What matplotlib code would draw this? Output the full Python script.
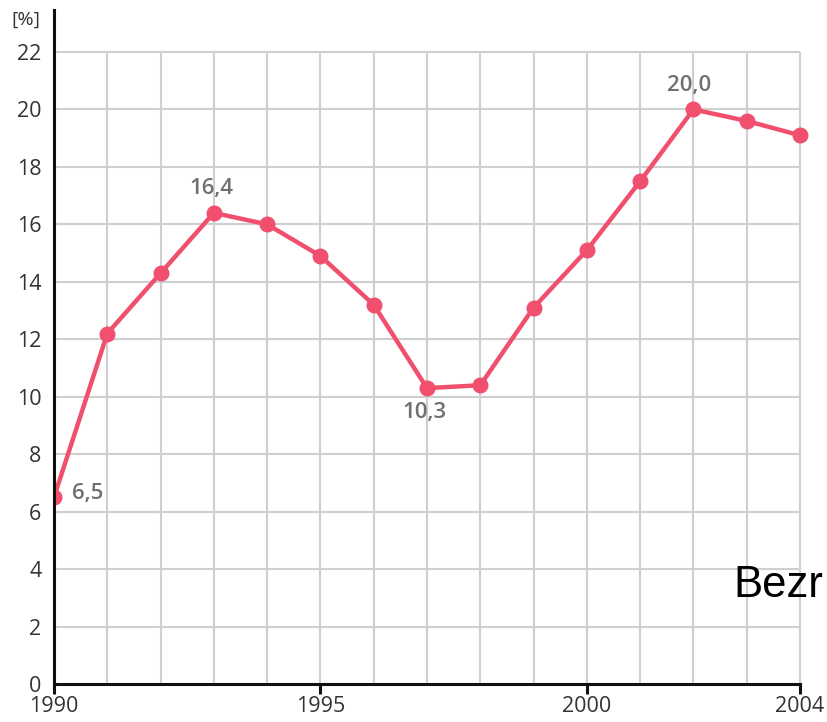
import matplotlib
matplotlib.use("Agg")
import matplotlib.pyplot as plt

years = list(range(1990, 2005))
values = [6.5, 12.2, 14.3, 16.4, 16.0, 14.9, 13.2, 10.3, 10.4, 13.1, 15.1, 17.5, 20.0, 19.6, 19.1]
yticks = list(range(0, 23, 2))
xticks = [1990, 1995, 2000, 2004]
annotations = {1990: "6,5", 1993: "16,4", 1997: "10,3", 2002: "20,0"}

plt.rcParams['font.family'] = ['Open Sans', 'DejaVu Sans']

W, H = 828, 722
fig = plt.figure(figsize=(W / 100, H / 100), dpi=100)
x0, x1 = 54, 828
y_bot, y_top = 684, 10
ax = fig.add_axes([x0 / W, (H - y_bot) / H, (x1 - x0) / W, (y_bot - y_top) / H])

px_per_year = (800 - 54) / 14
px_per_unit = (684 - 52) / 22
ax.set_xlim(1990, 1990 + (x1 - x0) / px_per_year)
ax.set_ylim(0, (y_bot - y_top) / px_per_unit)

grid_c = '#cfcfcf'
ax.hlines(yticks[1:], 1990, 2004, color=grid_c, lw=1.5, zorder=1)
ax.vlines(years[1:], 0, 22, color=grid_c, lw=1.5, zorder=1)

ax.plot(years, values, color='#f0506e', lw=3.2, marker='o', ms=10.5, zorder=3, clip_on=True)

for sp in ['top', 'right']:
    ax.spines[sp].set_visible(False)
ax.spines['left'].set_linewidth(2.2)
ax.spines['bottom'].set_linewidth(2.2)
ax.spines['left'].set_color('#111111')
ax.spines['bottom'].set_color('#111111')
ax.spines['bottom'].set_bounds(1990, 2004)
ax.spines['left'].set_zorder(4)

ax.set_xticks(xticks)
ax.set_xticklabels([str(t) for t in xticks])
ax.set_yticks(yticks)
ax.set_yticklabels([str(t) for t in yticks])
ax.tick_params(axis='x', direction='out', length=7, width=2.2, color='#111111',
               labelsize=15.5, labelcolor='#333333', pad=2)
ax.tick_params(axis='y', length=0, labelsize=15.5, labelcolor='#333333', pad=9)

ann_c = '#707070'
ax.annotate(annotations[1990], (1990, 6.5), xytext=(13, 3), textcoords='offset points',
            ha='left', va='center', fontsize=16, color=ann_c, fontweight='semibold')
ax.annotate(annotations[1993], (1993, 16.4), xytext=(-2, 10), textcoords='offset points',
            ha='center', va='bottom', fontsize=16, color=ann_c, fontweight='semibold')
ax.annotate(annotations[1997], (1997, 10.3), xytext=(-2, -10), textcoords='offset points',
            ha='center', va='top', fontsize=16, color=ann_c, fontweight='semibold')
ax.annotate(annotations[2002], (2002, 20.0), xytext=(-3, 10), textcoords='offset points',
            ha='center', va='bottom', fontsize=16, color=ann_c, fontweight='semibold')

fig.text(26 / W, 1 - 20 / H, "[%]", ha='center', va='center', fontsize=14, color='#333333')
fig.text(733 / W, 1 - 597 / H, "Bezr", ha='left', va='baseline', fontsize=31.5,
         color='black', family=['Liberation Sans', 'DejaVu Sans'])

fig.savefig("out.png", dpi=100)
